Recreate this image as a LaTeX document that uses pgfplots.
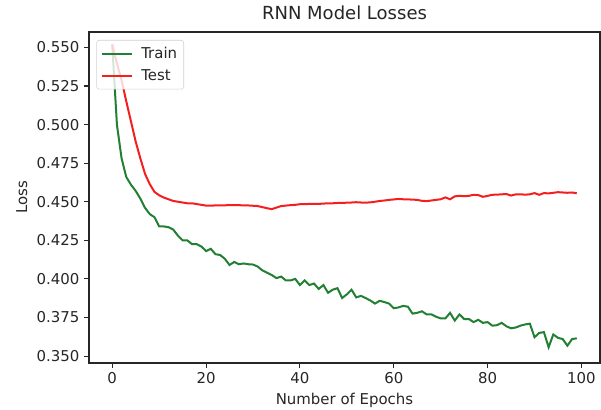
\documentclass[border=0pt]{standalone}
\usepackage{fontspec}
\setmainfont{DejaVu Sans}
\usepackage{pgfplots}
\usepackage{pgfplotstable}
\pgfplotsset{compat=1.18}
\usetikzlibrary{calc}
\definecolor{trainc}{RGB}{34,128,50}
\definecolor{testc}{RGB}{245,30,30}
\definecolor{txt}{RGB}{38,38,38}

\pgfplotstableread{
e v
0 0.552
1 0.500
2 0.478
3 0.466
4 0.461
5 0.457
6 0.452
7 0.446
8 0.442
9 0.440
10 0.434
11 0.434
12 0.4335
13 0.432
14 0.428
15 0.425
16 0.425
17 0.4225
18 0.4225
19 0.421
20 0.418
21 0.4195
22 0.416
23 0.4155
24 0.413
25 0.409
26 0.411
27 0.4095
28 0.410
29 0.4095
30 0.4093
31 0.408
32 0.4055
33 0.404
34 0.4025
35 0.4005
36 0.4015
37 0.399
38 0.399
39 0.400
40 0.396
41 0.399
42 0.396
43 0.397
44 0.3935
45 0.396
46 0.391
47 0.393
48 0.394
49 0.3876
50 0.390
51 0.393
52 0.388
53 0.389
54 0.3876
55 0.386
56 0.384
57 0.3858
58 0.385
59 0.384
60 0.381
61 0.3815
62 0.3825
63 0.382
64 0.3775
65 0.378
66 0.379
67 0.377
68 0.377
69 0.3755
70 0.3744
71 0.3744
72 0.378
73 0.373
74 0.377
75 0.374
76 0.374
77 0.372
78 0.3735
79 0.3715
80 0.372
81 0.3697
82 0.370
83 0.3715
84 0.3693
85 0.368
86 0.3685
87 0.3697
88 0.3705
89 0.371
90 0.3622
91 0.365
92 0.3655
93 0.3557
94 0.364
95 0.3618
96 0.361
97 0.3567
98 0.361
99 0.3615
}\train

\pgfplotstableread{
e v
0 0.552
1 0.5396
2 0.5287
3 0.515
4 0.502
5 0.489
6 0.478
7 0.468
8 0.4614
9 0.4564
10 0.4542
11 0.4527
12 0.4516
13 0.4505
14 0.450
15 0.4495
16 0.449
17 0.449
18 0.4485
19 0.448
20 0.4475
21 0.4475
22 0.4476
23 0.4476
24 0.4477
25 0.4478
26 0.4478
27 0.4478
28 0.4476
29 0.4476
30 0.4474
31 0.4472
32 0.4465
33 0.4458
34 0.4452
35 0.4462
36 0.4472
37 0.4475
38 0.4478
39 0.448
40 0.4484
41 0.4484
42 0.4486
43 0.4486
44 0.4486
45 0.4488
46 0.449
47 0.449
48 0.4492
49 0.4492
50 0.4494
51 0.4495
52 0.4497
53 0.4495
54 0.4494
55 0.4496
56 0.4500
57 0.4505
58 0.4508
59 0.4512
60 0.4515
61 0.4518
62 0.4516
63 0.4515
64 0.4514
65 0.4512
66 0.4506
67 0.4504
68 0.4508
69 0.4512
70 0.4516
71 0.4528
72 0.4516
73 0.4535
74 0.4538
75 0.4536
76 0.4538
77 0.4545
78 0.4543
79 0.4532
80 0.4538
81 0.4545
82 0.4546
83 0.4548
84 0.455
85 0.454
86 0.4548
87 0.4548
88 0.4546
89 0.4548
90 0.4556
91 0.4545
92 0.4556
93 0.4554
94 0.4558
95 0.4562
96 0.456
97 0.4558
98 0.456
99 0.4555
}\test

\begin{document}
\begin{tikzpicture}
\begin{axis}[
  scale only axis,
  width=383.25pt, height=248.25pt,
  xmin=-4.95, xmax=103.95,
  ymin=0.3455, ymax=0.5600,
  xtick={0,20,40,60,80,100},
  ytick={0.350,0.375,0.400,0.425,0.450,0.475,0.500,0.525,0.550},
  yticklabel style={/pgf/number format/.cd, fixed, fixed zerofill, precision=3},
  /pgf/number format/assume math mode=true,
  tick align=outside,
  tick pos=left,
  major tick length=3.7pt,
  tick style={black!85, line width=0.8pt},
  axis line style={black!85, line width=0.9pt},
  ticklabel style={font=\fontsize{11.2}{13}\selectfont, text=txt},
  label style={font=\fontsize{11.2}{13}\selectfont, text=txt},
  title style={font=\fontsize{13.5}{16}\selectfont, text=txt},
  title={RNN Model Losses},
  xlabel={Number of Epochs},
  ylabel={Loss},
  legend style={at={(0,1)}, anchor=north west, xshift=5.5pt, yshift=-6pt,
    draw=black!18, rounded corners=2pt, fill=white, fill opacity=0.8, text opacity=1,
    font=\fontsize{11.2}{13}\selectfont, text=txt, inner xsep=3pt, inner ysep=3pt, row sep=3pt,
    /tikz/every odd column/.append style={column sep=4pt}},
  legend cell align=left,
  legend image code/.code={\draw[#1] (0pt,0pt) -- (23pt,0pt);},
]
\addplot[trainc, line width=1.5pt] table[x=e, y=v] {\train};
\addlegendentry{Train}
\addplot[testc, line width=1.5pt] table[x=e, y=v] {\test};
\addlegendentry{Test}
\end{axis}
\pgfresetboundingbox
\path ($(current axis.south west)+(-66.75pt,-35.25pt)$) rectangle ($(current axis.north east)+(0.75pt,24pt)$);
\end{tikzpicture}
\end{document}
